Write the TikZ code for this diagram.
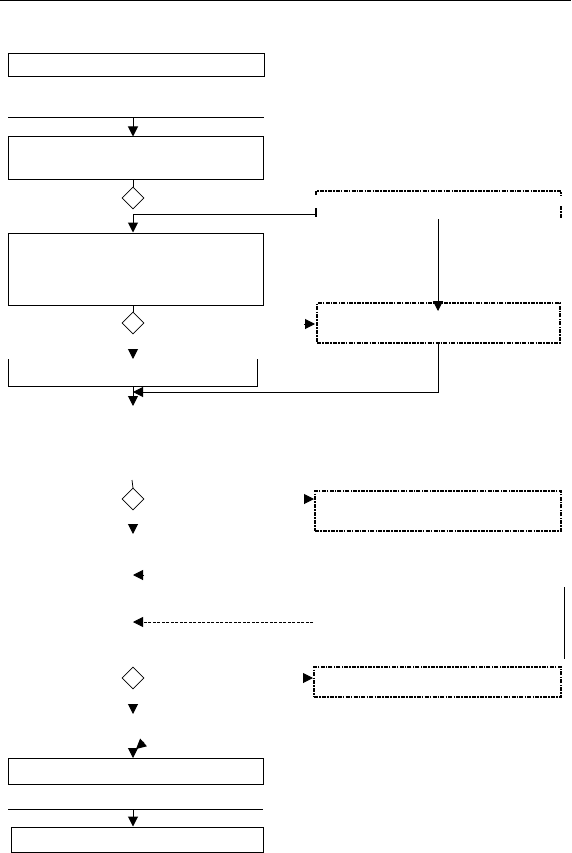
\documentclass[tikz,border=0pt]{standalone}
\usetikzlibrary{arrows.meta,shapes.geometric}
\begin{document}
\begin{tikzpicture}[x=1pt,y=-1pt,
  solidbox/.style={draw,line width=1pt,inner sep=0pt,minimum width=#1},
  dbox/.style={draw,line width=1.4pt,inner sep=0pt,dash pattern=on 4pt off 1.2pt on 1.5pt off 1.2pt},
  dia/.style={draw,diamond,line width=0.7pt,inner sep=0pt,minimum width=22pt,minimum height=22pt},
  conn/.style={line width=1pt},
  arr/.style={line width=1pt,-{Triangle[length=10pt,width=10pt]}},
  tiponly/.style={line width=1pt,-{Triangle[length=10pt,width=10pt]}}]
\useasboundingbox (0,0) rectangle (571,853);
\fill[white] (0,0) rectangle (571,853);
% top rule
\draw[conn] (0,1) -- (571,1);
% left column boxes
\node[solidbox=256pt,minimum height=23pt] (b1) at (136,65.5) {};
\coordinate (l1a) at (8,118); \coordinate (l1b) at (264,118);
\draw[conn] (l1a) -- (l1b);
\node[solidbox=255pt,minimum height=43pt] (b2) at (135.5,158.5) {};
\draw[arr] (133,118) -- (b2.north -| 133,0);
\node[dia] (d1) at (133,198) {};
\draw[conn] (b2.south -| d1) -- (d1.north);
\node[solidbox=255pt,minimum height=72pt] (b3) at (135.5,269) {};
% dashed box top right (partial)
\coordinate (db1tl) at (316,191); \coordinate (db1tr) at (561,191);
\draw[dbox] (316,195) -- (db1tl) -- (db1tr) -- (561,195);
\draw[line width=1.4pt] (316,208) -- (316,217);
\draw[dbox] (561,206) -- (561,218);
\coordinate (j1) at (133,214);
\draw[conn] (j1) -- (316,214);
\draw[arr] (j1) -- (b3.north -| j1);
\node[dbox,minimum width=243pt,minimum height=40pt] (db2) at (438.5,323) {};
\draw[arr] (438,219) -- (438,311);
\draw[tiponly] (304,324) -- (315,324);
\node[dia] (d2) at (133,323) {};
\draw[conn] (b3.south -| d2) -- (d2.north);
\draw[tiponly] (133,349) -- (133,359);
% open-top box
\draw[conn] (8,359) -- (8,386) -- (257,386) -- (257,359);
\coordinate (j2) at (133,392);
\draw[arr] (db2.south -| 438,0) -- (438,392) -- (j2);
\draw[arr] (133,386) -- (133,406);
% third block
\draw[line width=0.8pt] (132,480) -- (133,488);
\node[dia] (d3) at (133,499) {};
\draw[tiponly] (133,524) -- (133,534);
\node[dbox,minimum width=246pt,minimum height=40pt] (db3) at (438,511) {};
\draw[tiponly] (304,499) -- (314,499);
\draw[tiponly] (144,575) -- (133,575);
\coordinate (ds) at (313,622);
\draw[line width=0.8pt,dash pattern=on 3pt off 1.5pt,-{Triangle[length=10pt,width=10pt]}] (ds) -- (133,622);
\draw[conn] (564,587) -- (564,659);
\node[dia] (d4) at (133,678) {};
\draw[tiponly] (303,678) -- (313,678);
\node[dbox,minimum width=247pt,minimum height=30pt] (db4) at (437.5,682) {};
\draw[tiponly] (133,704) -- (133,714);
\draw[tiponly] (144,742) -- (136,749);
\draw[tiponly] (133,748) -- (133,758);
\node[solidbox=255pt,minimum height=26pt] (b5) at (135.5,771) {};
\coordinate (l2a) at (8,809); \coordinate (l2b) at (263,809);
\draw[conn] (l2a) -- (l2b);
\node[solidbox=252pt,minimum height=25pt] (b6) at (137,839.5) {};
\draw[arr] (133,809) -- (b6.north -| 133,0);
\end{tikzpicture}
\end{document}
